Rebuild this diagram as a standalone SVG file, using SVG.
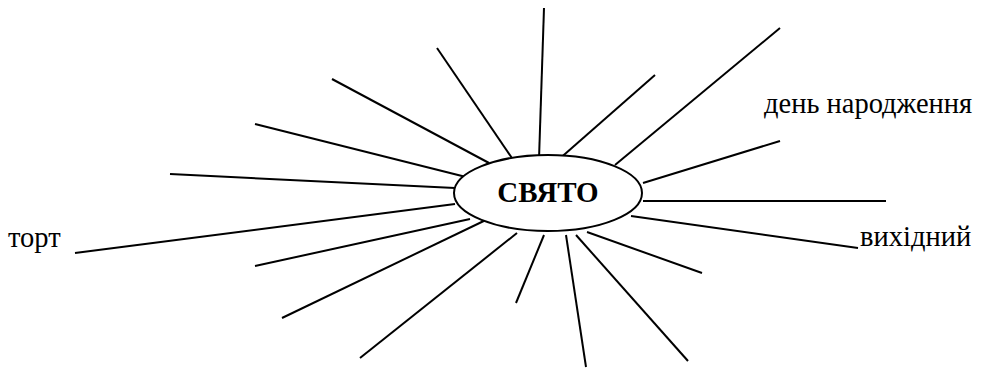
<svg xmlns="http://www.w3.org/2000/svg" width="986" height="368" viewBox="0 0 986 368">
<rect width="986" height="368" fill="#fff"/>
<g id="connectors" stroke="#000" stroke-width="2" fill="none">
<line x1="332" y1="79" x2="489" y2="163"/>
<line x1="255" y1="124" x2="470" y2="178"/>
<line x1="170" y1="174" x2="455" y2="188"/>
<line x1="75" y1="253" x2="455" y2="204"/>
<line x1="255" y1="266" x2="470" y2="219"/>
<line x1="282" y1="318" x2="490" y2="218"/>
<line x1="360" y1="358" x2="517" y2="233"/>
<line x1="437" y1="48" x2="516" y2="164"/>
<line x1="544" y1="8" x2="539" y2="159"/>
<line x1="655" y1="75" x2="557" y2="161"/>
<line x1="780" y1="28" x2="615" y2="165"/>
<line x1="780" y1="141" x2="643" y2="183"/>
<line x1="643" y1="201" x2="886" y2="201"/>
<line x1="631" y1="216" x2="858" y2="248"/>
<line x1="587" y1="232" x2="702" y2="273"/>
<line x1="576" y1="235" x2="688" y2="361"/>
<line x1="566" y1="235" x2="586" y2="367"/>
<line x1="544" y1="235" x2="516" y2="303"/>
</g>
<g id="center">
<ellipse cx="548" cy="193" rx="94" ry="38" fill="#fff" stroke="#000" stroke-width="2"/>
<text x="548" y="202" text-anchor="middle" style="font-family:'Liberation Serif',serif !important;font-size:29px;font-weight:bold">СВЯТО</text>
</g>
<g id="label-birthday"><text x="764" y="113" style="font-family:'Liberation Serif',serif !important;font-size:28.5px">день народження</text></g>
<g id="label-cake"><text x="8" y="247" style="font-family:'Liberation Serif',serif !important;font-size:28.5px">торт</text></g>
<g id="label-dayoff"><text x="860" y="246" style="font-family:'Liberation Serif',serif !important;font-size:28.5px">вихідний</text></g>
</svg>
